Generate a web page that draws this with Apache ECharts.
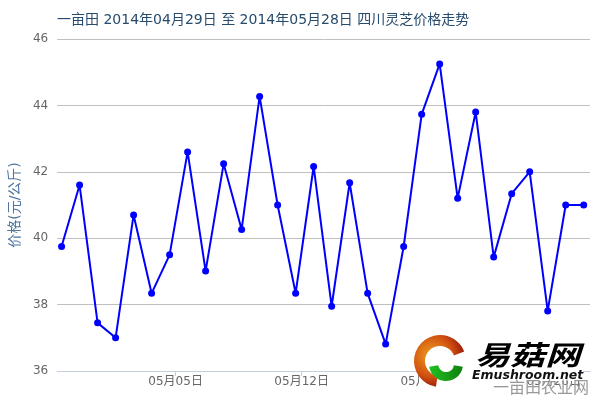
<!DOCTYPE html>
<html><head><meta charset="utf-8">
<script src="https://cdn.jsdelivr.net/npm/echarts@6/dist/echarts.min.js"></script>
<style>html,body{margin:0;padding:0;background:#fff}#c{width:600px;height:400px}</style>
</head><body><div id="c"></div>
<script>
var titleText = '一亩田 2014年04月29日 至 2014年05月28日 四川灵芝价格走势';
var dates = ['04月29日','04月30日','05月01日','05月02日','05月03日','05月04日','05月05日','05月06日','05月07日','05月08日',
             '05月09日','05月10日','05月11日','05月12日','05月13日','05月14日','05月15日','05月16日','05月17日','05月18日',
             '05月19日','05月20日','05月21日','05月22日','05月23日','05月24日','05月25日','05月26日','05月27日','05月28日'];
var prices = [39.75,41.6,37.45,37.0,40.7,38.34,39.5,42.6,39.01,42.24,
              40.26,44.27,41.0,38.34,42.16,37.95,41.67,38.34,36.81,39.75,
              43.73,45.25,41.2,43.8,39.43,41.34,42.0,37.81,41.0,41.0];
var tickLabels = ['05月05日','05月12日','05月19日','05月26日'];
var tickIdx = [6,13,20,27];

var FONT = 'DejaVu Sans, Noto Sans CJK SC, sans-serif';
var tickPos = tickIdx.map(function(i){return i + 1/3;});
var data = prices.map(function(v,i){return [i,v];});

var chart = echarts.init(document.getElementById('c'));
chart.setOption({
  animation:false,
  title:{text:titleText,left:57,top:13,padding:0,textStyle:{fontFamily:FONT,fontSize:14,fontWeight:'normal',color:'#274b6d'}},
  grid:{left:57,right:10,top:39,bottom:29},
  xAxis:{type:'value',min:-0.245,max:29.35,
    axisLine:{show:true,lineStyle:{color:'#C0D0E0',width:1}},
    axisTick:{show:true,length:5,lineStyle:{color:'#C0D0E0'},customValues:tickPos},
    axisLabel:{customValues:tickPos,color:'#666',fontSize:12,fontFamily:FONT,margin:5,
      formatter:function(v){var k=tickPos.indexOf(v);return k>=0?tickLabels[k]:'';}},
    splitLine:{show:false}},
  yAxis:{type:'value',min:36,max:46,interval:2,
    name:'价格(元/公斤)',nameLocation:'middle',nameGap:27,nameRotate:90,
    nameTextStyle:{color:'#4d759e',fontSize:14,fontFamily:FONT},
    axisLine:{show:false},axisTick:{show:false},
    axisLabel:{color:'#666',fontSize:12,fontFamily:FONT,margin:9},
    splitLine:{lineStyle:{color:'#C0C0C0',width:1}}},
  series:[{type:'line',data:data,symbol:'circle',symbolSize:7,
    lineStyle:{color:'#0000FF',width:2},itemStyle:{color:'#0000FF'}}],
  graphic:[
    {type:'rect',z:100,shape:{x:419,y:336,width:164,height:45},style:{fill:'#fff'}},
    {type:'rect',z:100,shape:{x:419,y:336,width:52,height:57},style:{fill:'#fff'}},
    {type:'sector',z:101,shape:{cx:440,cy:361,r:26,r0:15,startAngle:Math.PI*0.55,endAngle:Math.PI*1.88},
      style:{fill:{type:'radial',x:0.35,y:0.4,r:0.7,colorStops:[{offset:0,color:'#f0a020'},{offset:0.6,color:'#d05010'},{offset:1,color:'#901008'}]}}},
    {type:'sector',z:102,shape:{cx:446,cy:364,r:17,r0:8,startAngle:Math.PI*0.05,endAngle:Math.PI*0.95},
      style:{fill:{type:'linear',x:0,y:0,x2:1,y2:0,colorStops:[{offset:0,color:'#20c020'},{offset:1,color:'#108010'}]}}},
    {type:'text',z:103,x:475,y:341,scaleX:1.3,style:{text:'易菇网',font:'italic bold 27px Noto Sans CJK SC, sans-serif',
      fill:{type:'linear',x:0,y:0,x2:0,y2:1,colorStops:[{offset:0,color:'#111'},{offset:0.5,color:'#666'},{offset:1,color:'#111'}]}}},
    {type:'text',z:103,x:472,y:369,style:{text:'Emushroom.net',font:'italic bold 12.5px DejaVu Sans, sans-serif',fill:'#111'}},
    {type:'text',z:104,right:11,top:379,style:{text:'一亩田农业网',font:'16px Noto Sans CJK SC, sans-serif',fill:'#999'}}
  ]
});
</script></body></html>
